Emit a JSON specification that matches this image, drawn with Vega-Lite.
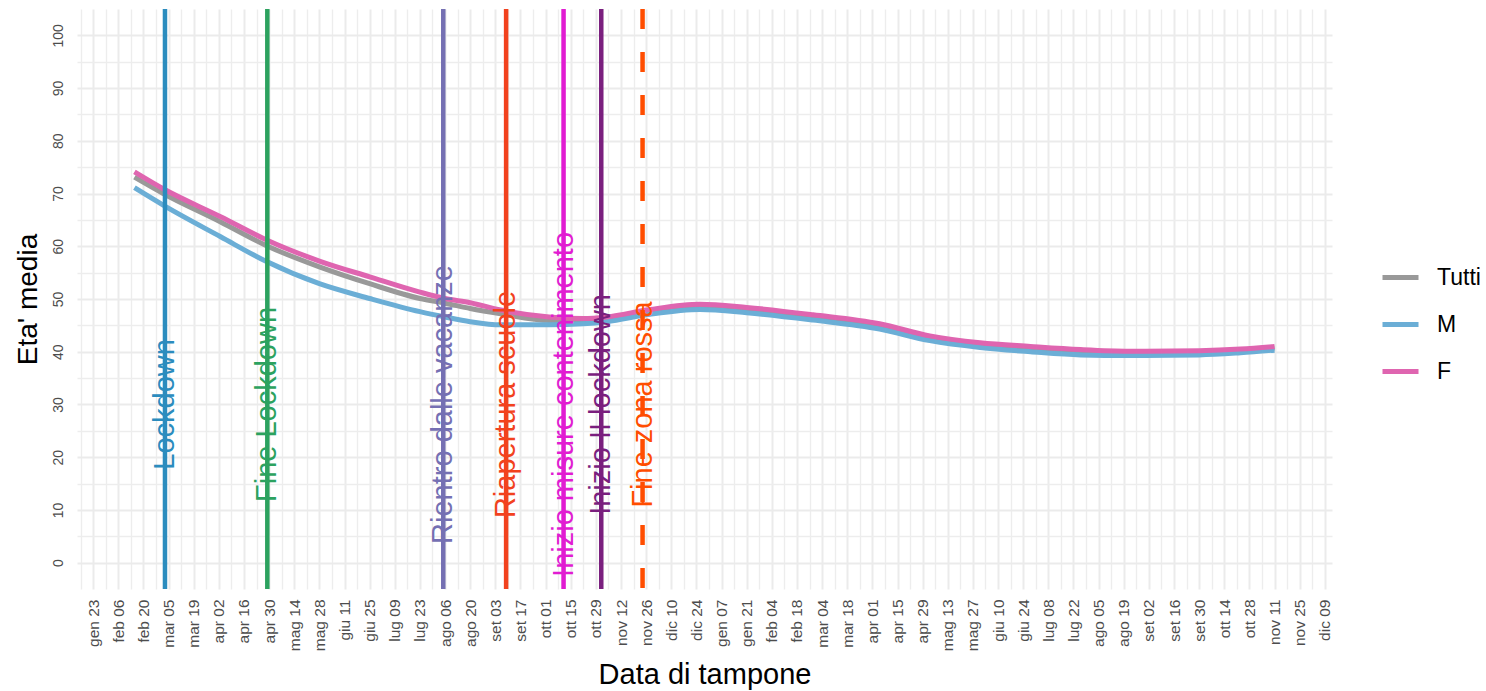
{
  "$schema": "https://vega.github.io/schema/vega-lite/v6.json",
  "width": 1255,
  "height": 580,
  "autosize": {"type": "none"},
  "padding": {"left": 77, "top": 9, "right": 154, "bottom": 102},
  "background": "white",
  "config": {"view": {"stroke": null}, "font": "Liberation Sans"},
  "datasets": {
    "curve": [
      {"data": "2020-02-15", "serie": "Tutti", "eta": 73.1},
      {"data": "2020-03-02", "serie": "Tutti", "eta": 70.0},
      {"data": "2020-04-03", "serie": "Tutti", "eta": 64.6},
      {"data": "2020-04-28", "serie": "Tutti", "eta": 60.2},
      {"data": "2020-05-28", "serie": "Tutti", "eta": 56.1},
      {"data": "2020-06-25", "serie": "Tutti", "eta": 52.9},
      {"data": "2020-07-23", "serie": "Tutti", "eta": 50.1},
      {"data": "2020-08-06", "serie": "Tutti", "eta": 49.2},
      {"data": "2020-08-20", "serie": "Tutti", "eta": 48.2},
      {"data": "2020-09-06", "serie": "Tutti", "eta": 47.2},
      {"data": "2020-10-03", "serie": "Tutti", "eta": 45.9},
      {"data": "2020-10-22", "serie": "Tutti", "eta": 45.8},
      {"data": "2020-11-04", "serie": "Tutti", "eta": 46.2},
      {"data": "2020-11-28", "serie": "Tutti", "eta": 47.5},
      {"data": "2020-12-26", "serie": "Tutti", "eta": 48.5},
      {"data": "2021-01-21", "serie": "Tutti", "eta": 47.9},
      {"data": "2021-02-27", "serie": "Tutti", "eta": 46.5},
      {"data": "2021-04-05", "serie": "Tutti", "eta": 44.8},
      {"data": "2021-05-03", "serie": "Tutti", "eta": 42.5},
      {"data": "2021-05-31", "serie": "Tutti", "eta": 41.2},
      {"data": "2021-06-28", "serie": "Tutti", "eta": 40.5},
      {"data": "2021-07-26", "serie": "Tutti", "eta": 39.9},
      {"data": "2021-08-22", "serie": "Tutti", "eta": 39.7},
      {"data": "2021-09-30", "serie": "Tutti", "eta": 39.8},
      {"data": "2021-10-23", "serie": "Tutti", "eta": 40.1},
      {"data": "2021-11-11", "serie": "Tutti", "eta": 40.7},
      {"data": "2020-02-15", "serie": "M", "eta": 71.1},
      {"data": "2020-03-02", "serie": "M", "eta": 67.8},
      {"data": "2020-04-03", "serie": "M", "eta": 61.8},
      {"data": "2020-04-28", "serie": "M", "eta": 57.2},
      {"data": "2020-05-28", "serie": "M", "eta": 52.9},
      {"data": "2020-06-25", "serie": "M", "eta": 50.1},
      {"data": "2020-07-23", "serie": "M", "eta": 47.6},
      {"data": "2020-08-06", "serie": "M", "eta": 46.6},
      {"data": "2020-08-20", "serie": "M", "eta": 45.7},
      {"data": "2020-09-06", "serie": "M", "eta": 45.1},
      {"data": "2020-10-03", "serie": "M", "eta": 45.1},
      {"data": "2020-10-22", "serie": "M", "eta": 45.3},
      {"data": "2020-11-04", "serie": "M", "eta": 45.7},
      {"data": "2020-11-28", "serie": "M", "eta": 47.1},
      {"data": "2020-12-26", "serie": "M", "eta": 48.0},
      {"data": "2021-01-21", "serie": "M", "eta": 47.4},
      {"data": "2021-02-27", "serie": "M", "eta": 46.0},
      {"data": "2021-04-05", "serie": "M", "eta": 44.3},
      {"data": "2021-05-03", "serie": "M", "eta": 42.1},
      {"data": "2021-05-31", "serie": "M", "eta": 40.8},
      {"data": "2021-06-28", "serie": "M", "eta": 40.0},
      {"data": "2021-07-26", "serie": "M", "eta": 39.4},
      {"data": "2021-08-22", "serie": "M", "eta": 39.3},
      {"data": "2021-09-30", "serie": "M", "eta": 39.4},
      {"data": "2021-10-23", "serie": "M", "eta": 39.8},
      {"data": "2021-11-11", "serie": "M", "eta": 40.3},
      {"data": "2020-02-15", "serie": "F", "eta": 74.1},
      {"data": "2020-03-02", "serie": "F", "eta": 70.9},
      {"data": "2020-04-03", "serie": "F", "eta": 65.6},
      {"data": "2020-04-28", "serie": "F", "eta": 61.3},
      {"data": "2020-05-28", "serie": "F", "eta": 57.2},
      {"data": "2020-06-25", "serie": "F", "eta": 54.2},
      {"data": "2020-07-23", "serie": "F", "eta": 51.3},
      {"data": "2020-08-06", "serie": "F", "eta": 50.1},
      {"data": "2020-08-20", "serie": "F", "eta": 49.3},
      {"data": "2020-09-06", "serie": "F", "eta": 47.9},
      {"data": "2020-10-03", "serie": "F", "eta": 46.6},
      {"data": "2020-10-22", "serie": "F", "eta": 46.3},
      {"data": "2020-11-04", "serie": "F", "eta": 46.6},
      {"data": "2020-11-28", "serie": "F", "eta": 48.0},
      {"data": "2020-12-26", "serie": "F", "eta": 49.0},
      {"data": "2021-01-21", "serie": "F", "eta": 48.4},
      {"data": "2021-02-27", "serie": "F", "eta": 47.0},
      {"data": "2021-04-05", "serie": "F", "eta": 45.3},
      {"data": "2021-05-03", "serie": "F", "eta": 43.0},
      {"data": "2021-05-31", "serie": "F", "eta": 41.7},
      {"data": "2021-06-28", "serie": "F", "eta": 41.0},
      {"data": "2021-07-26", "serie": "F", "eta": 40.4},
      {"data": "2021-08-22", "serie": "F", "eta": 40.1},
      {"data": "2021-09-30", "serie": "F", "eta": 40.2},
      {"data": "2021-10-23", "serie": "F", "eta": 40.5},
      {"data": "2021-11-11", "serie": "F", "eta": 41.0}
    ],
    "eventi": [
      {"data": "2020-03-03", "evento": "Lockdown"},
      {"data": "2020-04-29", "evento": "Fine Lockdown"},
      {"data": "2020-08-05", "evento": "Rientro dalle vacanze"},
      {"data": "2020-09-09", "evento": "Riapertura scuole"},
      {"data": "2020-10-11", "evento": "Inizio misure contenimento"},
      {"data": "2020-11-01", "evento": "Inizio II lockdown"},
      {"data": "2020-11-24", "evento": "Fine zona rossa"}
    ]
  },
  "layer": [
    {
      "data": {"name": "curve"},
      "mark": {"type": "line", "strokeWidth": 5, "interpolate": "monotone"},
      "encoding": {
        "x": {
          "field": "data", "type": "temporal",
          "scale": {"type": "utc", "domain": [{"year": 2020, "month": 1, "date": 14, "utc": true}, {"year": 2021, "month": 12, "date": 13, "utc": true}]},
          "axis": {
            "values": [
              {"year": 2020, "month": 1, "date": 23, "utc": true}, {"year": 2020, "month": 2, "date": 6, "utc": true}, {"year": 2020, "month": 2, "date": 20, "utc": true}, {"year": 2020, "month": 3, "date": 5, "utc": true}, {"year": 2020, "month": 3, "date": 19, "utc": true}, {"year": 2020, "month": 4, "date": 2, "utc": true}, {"year": 2020, "month": 4, "date": 16, "utc": true}, {"year": 2020, "month": 4, "date": 30, "utc": true}, {"year": 2020, "month": 5, "date": 14, "utc": true}, {"year": 2020, "month": 5, "date": 28, "utc": true}, {"year": 2020, "month": 6, "date": 11, "utc": true}, {"year": 2020, "month": 6, "date": 25, "utc": true}, {"year": 2020, "month": 7, "date": 9, "utc": true}, {"year": 2020, "month": 7, "date": 23, "utc": true}, {"year": 2020, "month": 8, "date": 6, "utc": true}, {"year": 2020, "month": 8, "date": 20, "utc": true}, {"year": 2020, "month": 9, "date": 3, "utc": true}, {"year": 2020, "month": 9, "date": 17, "utc": true}, {"year": 2020, "month": 10, "date": 1, "utc": true}, {"year": 2020, "month": 10, "date": 15, "utc": true}, {"year": 2020, "month": 10, "date": 29, "utc": true}, {"year": 2020, "month": 11, "date": 12, "utc": true}, {"year": 2020, "month": 11, "date": 26, "utc": true}, {"year": 2020, "month": 12, "date": 10, "utc": true}, {"year": 2020, "month": 12, "date": 24, "utc": true},
              {"year": 2021, "month": 1, "date": 7, "utc": true}, {"year": 2021, "month": 1, "date": 21, "utc": true}, {"year": 2021, "month": 2, "date": 4, "utc": true}, {"year": 2021, "month": 2, "date": 18, "utc": true}, {"year": 2021, "month": 3, "date": 4, "utc": true}, {"year": 2021, "month": 3, "date": 18, "utc": true}, {"year": 2021, "month": 4, "date": 1, "utc": true}, {"year": 2021, "month": 4, "date": 15, "utc": true}, {"year": 2021, "month": 4, "date": 29, "utc": true}, {"year": 2021, "month": 5, "date": 13, "utc": true}, {"year": 2021, "month": 5, "date": 27, "utc": true}, {"year": 2021, "month": 6, "date": 10, "utc": true}, {"year": 2021, "month": 6, "date": 24, "utc": true}, {"year": 2021, "month": 7, "date": 8, "utc": true}, {"year": 2021, "month": 7, "date": 22, "utc": true}, {"year": 2021, "month": 8, "date": 5, "utc": true}, {"year": 2021, "month": 8, "date": 19, "utc": true}, {"year": 2021, "month": 9, "date": 2, "utc": true}, {"year": 2021, "month": 9, "date": 16, "utc": true}, {"year": 2021, "month": 9, "date": 30, "utc": true}, {"year": 2021, "month": 10, "date": 14, "utc": true}, {"year": 2021, "month": 10, "date": 28, "utc": true}, {"year": 2021, "month": 11, "date": 11, "utc": true}, {"year": 2021, "month": 11, "date": 25, "utc": true}, {"year": 2021, "month": 12, "date": 9, "utc": true}
            ],
            "labelExpr": "['gen','feb','mar','apr','mag','giu','lug','ago','set','ott','nov','dic'][utcmonth(datum.value)] + ' ' + utcFormat(datum.value, '%d')",
            "labelAngle": 270, "labelAlign": "right", "labelBaseline": "middle",
            "labelFontSize": 15.5, "labelColor": "#4d4d4d", "labelPadding": 10,
            "labelOverlap": false, "labelFlush": false, "labelBound": false,
            "ticks": false, "domain": false,
            "grid": true, "gridColor": "#ebebeb", "gridWidth": 2,
            "title": "Data di tampone", "titleFontSize": 29, "titleFontWeight": "normal", "titleColor": "black", "titlePadding": 10
          }
        },
        "y": {
          "field": "eta", "type": "quantitative",
          "scale": {"domain": [-5, 105], "nice": false, "zero": false},
          "axis": {
            "values": [0, 10, 20, 30, 40, 50, 60, 70, 80, 90, 100],
            "labelAngle": 270, "labelAlign": "center", "labelBaseline": "bottom",
            "labelFontSize": 14, "labelColor": "#4d4d4d", "labelPadding": 12,
            "ticks": false, "domain": false,
            "grid": true, "gridColor": "#ebebeb", "gridWidth": 2,
            "title": "Eta' media", "titleFontSize": 28, "titleFontWeight": "normal", "titleColor": "black", "titlePadding": 9
          }
        },
        "color": {
          "field": "serie", "type": "nominal",
          "scale": {"domain": ["Tutti", "M", "F"], "range": ["#999999", "#6baed6", "#df65b0"]},
          "legend": {
            "title": null, "orient": "none", "legendX": 1303, "legendY": 248, "direction": "vertical",
            "symbolType": "stroke", "symbolSize": 1296, "symbolStrokeWidth": 5,
            "labelFontSize": 23, "labelColor": "black", "labelFont": "Liberation Sans", "labelOffset": 16, "rowPadding": 14
          }
        }
      }
    },
    {
      "data": {"name": "eventi"},
      "mark": {"type": "rule", "strokeWidth": 4.5},
      "encoding": {
        "x": {
          "field": "data", "type": "temporal",
          "axis": {
            "orient": "top",
            "values": [
              {"year": 2020, "month": 1, "date": 16, "utc": true}, {"year": 2020, "month": 1, "date": 30, "utc": true}, {"year": 2020, "month": 2, "date": 13, "utc": true}, {"year": 2020, "month": 2, "date": 27, "utc": true}, {"year": 2020, "month": 3, "date": 12, "utc": true}, {"year": 2020, "month": 3, "date": 26, "utc": true}, {"year": 2020, "month": 4, "date": 9, "utc": true}, {"year": 2020, "month": 4, "date": 23, "utc": true}, {"year": 2020, "month": 5, "date": 7, "utc": true}, {"year": 2020, "month": 5, "date": 21, "utc": true}, {"year": 2020, "month": 6, "date": 4, "utc": true}, {"year": 2020, "month": 6, "date": 18, "utc": true}, {"year": 2020, "month": 7, "date": 2, "utc": true}, {"year": 2020, "month": 7, "date": 16, "utc": true}, {"year": 2020, "month": 7, "date": 30, "utc": true}, {"year": 2020, "month": 8, "date": 13, "utc": true}, {"year": 2020, "month": 8, "date": 27, "utc": true}, {"year": 2020, "month": 9, "date": 10, "utc": true}, {"year": 2020, "month": 9, "date": 24, "utc": true}, {"year": 2020, "month": 10, "date": 8, "utc": true}, {"year": 2020, "month": 10, "date": 22, "utc": true}, {"year": 2020, "month": 11, "date": 5, "utc": true}, {"year": 2020, "month": 11, "date": 19, "utc": true}, {"year": 2020, "month": 12, "date": 3, "utc": true}, {"year": 2020, "month": 12, "date": 17, "utc": true}, {"year": 2020, "month": 12, "date": 31, "utc": true},
              {"year": 2021, "month": 1, "date": 14, "utc": true}, {"year": 2021, "month": 1, "date": 28, "utc": true}, {"year": 2021, "month": 2, "date": 11, "utc": true}, {"year": 2021, "month": 2, "date": 25, "utc": true}, {"year": 2021, "month": 3, "date": 11, "utc": true}, {"year": 2021, "month": 3, "date": 25, "utc": true}, {"year": 2021, "month": 4, "date": 8, "utc": true}, {"year": 2021, "month": 4, "date": 22, "utc": true}, {"year": 2021, "month": 5, "date": 6, "utc": true}, {"year": 2021, "month": 5, "date": 20, "utc": true}, {"year": 2021, "month": 6, "date": 3, "utc": true}, {"year": 2021, "month": 6, "date": 17, "utc": true}, {"year": 2021, "month": 7, "date": 1, "utc": true}, {"year": 2021, "month": 7, "date": 15, "utc": true}, {"year": 2021, "month": 7, "date": 29, "utc": true}, {"year": 2021, "month": 8, "date": 12, "utc": true}, {"year": 2021, "month": 8, "date": 26, "utc": true}, {"year": 2021, "month": 9, "date": 9, "utc": true}, {"year": 2021, "month": 9, "date": 23, "utc": true}, {"year": 2021, "month": 10, "date": 7, "utc": true}, {"year": 2021, "month": 10, "date": 21, "utc": true}, {"year": 2021, "month": 11, "date": 4, "utc": true}, {"year": 2021, "month": 11, "date": 18, "utc": true}, {"year": 2021, "month": 12, "date": 2, "utc": true}
            ],
            "labels": false, "ticks": false, "domain": false, "title": null,
            "grid": true, "gridColor": "#ededed", "gridWidth": 1.4
          }
        },
        "color": {
          "field": "evento", "type": "nominal",
          "scale": {"domain": ["Lockdown", "Fine Lockdown", "Rientro dalle vacanze", "Riapertura scuole", "Inizio misure contenimento", "Inizio II lockdown", "Fine zona rossa"], "range": ["#2b8cbe", "#2ca25f", "#7570b3", "#f2421e", "#e11cd2", "#7a1f7e", "#ff4d00"]},
          "legend": null
        },
        "strokeDash": {"condition": {"test": "datum.evento === 'Fine zona rossa'", "value": [20, 23]}, "value": [1, 0]}
      }
    },
    {
      "data": {"name": "eventi"},
      "mark": {"type": "text", "angle": 270, "fontSize": 29, "align": "center", "baseline": "middle", "font": "Liberation Sans"},
      "encoding": {
        "x": {"field": "data", "type": "temporal", "axis": null},
        "y": {
          "datum": 30, "type": "quantitative",
          "axis": {
            "orient": "right",
            "values": [5, 15, 25, 35, 45, 55, 65, 75, 85, 95],
            "labels": false, "ticks": false, "domain": false, "title": null,
            "grid": true, "gridColor": "#ededed", "gridWidth": 1.4
          }
        },
        "text": {"field": "evento"},
        "color": {
          "field": "evento", "type": "nominal",
          "scale": {"domain": ["Lockdown", "Fine Lockdown", "Rientro dalle vacanze", "Riapertura scuole", "Inizio misure contenimento", "Inizio II lockdown", "Fine zona rossa"], "range": ["#2b8cbe", "#2ca25f", "#7570b3", "#f2421e", "#e11cd2", "#7a1f7e", "#ff4d00"]},
          "legend": null
        }
      }
    }
  ],
  "resolve": {"scale": {"color": "independent"}, "axis": {"x": "independent", "y": "independent"}}
}
